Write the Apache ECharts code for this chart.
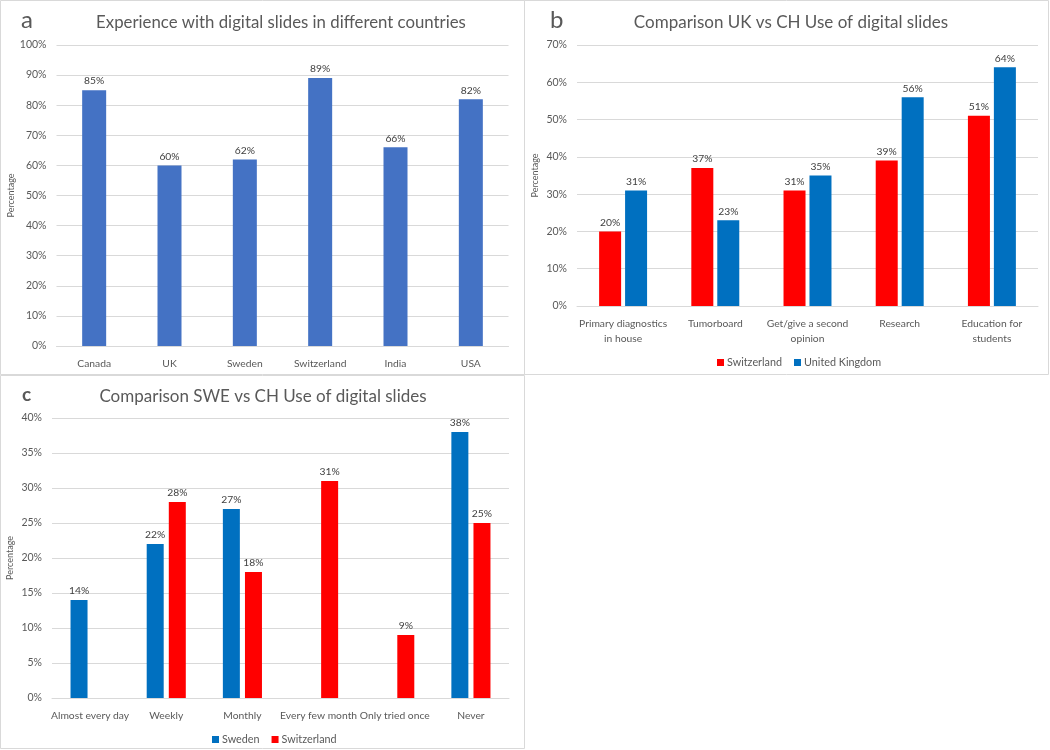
<!DOCTYPE html>
<html>
<head>
<meta charset="utf-8">
<script src="https://cdn.jsdelivr.net/npm/echarts@6/dist/echarts.min.js"></script>
<style>
html,body{margin:0;padding:0;background:#fff;}
#chart{width:1050px;height:750px;}
</style>
</head>
<body>
<div id="chart"></div>
<script>
// ---- Data ----
const countriesA = ['Canada', 'UK', 'Sweden', 'Switzerland', 'India', 'USA'];
const experienceA = [85, 60, 62, 89, 66, 82];

const usesB = ['Primary diagnostics\nin house', 'Tumorboard', 'Get/give a second\nopinion', 'Research', 'Education for\nstudents'];
const switzerlandB = [20, 37, 31, 39, 51];
const ukB = [31, 23, 35, 56, 64];

const freqC = ['Almost every day', 'Weekly', 'Monthly', 'Every few month', 'Only tried once', 'Never'];
const swedenC = [14, 22, 27, null, null, 38];
const switzerlandC = [null, 28, 18, 31, 9, 25];

const titles = [
  'Experience with digital slides in different countries',
  'Comparison UK vs CH Use of digital slides',
  'Comparison SWE vs CH Use of digital slides'
];

// ---- Styles ----
const FONT = 'Lato';
const TXT = '#595959';
const GRIDC = '#d9d9d9';
const BLUE_A = '#4472C4';
const RED = '#FF0000';
const BLUE = '#0070C0';

function yAxis(gi, max, interval, gap) {
  return {
    type: 'value', gridIndex: gi, min: 0, max: max, interval: interval,
    name: 'Percentage', nameLocation: 'middle', nameGap: gap, nameRotate: 90,
    nameTextStyle: {fontFamily: FONT, fontSize: 9, color: TXT},
    axisLine: {show: false}, axisTick: {show: false},
    axisLabel: {formatter: '{value}%', fontFamily: FONT, fontSize: 10.5, color: TXT, margin: 10},
    splitLine: {lineStyle: {color: GRIDC, width: 1}}
  };
}
function xAxis(gi, data) {
  return {
    type: 'category', gridIndex: gi, data: data,
    axisLine: {lineStyle: {color: GRIDC, width: 1}},
    axisTick: {show: false},
    axisLabel: {fontFamily: FONT, fontSize: 10.3, color: TXT, margin: 10, lineHeight: 15, interval: 0}
  };
}
const lbl = {show: true, position: 'top', distance: 4, formatter: p => p.value + '%',
  fontFamily: FONT, fontSize: 10.3, color: '#404040'};

const chart = echarts.init(document.getElementById('chart'), null, {renderer: 'canvas'});
chart.setOption({
  backgroundColor: '#fff',
  animation: false,
  graphic: [
    {type: 'rect', shape: {x: 0.5, y: 0.5, width: 524, height: 374}, style: {fill: 'none', stroke: GRIDC, lineWidth: 1}},
    {type: 'rect', shape: {x: 524.5, y: 0.5, width: 524, height: 374}, style: {fill: 'none', stroke: GRIDC, lineWidth: 1}},
    {type: 'rect', shape: {x: 0.5, y: 375.5, width: 524, height: 373}, style: {fill: 'none', stroke: GRIDC, lineWidth: 1}},
    {type: 'text', left: 21, top: 8, style: {text: 'a', font: '24px Lato', fill: TXT}},
    {type: 'text', left: 550, top: 8, style: {text: 'b', font: '24px Lato', fill: TXT}},
    {type: 'text', left: 22, top: 385, style: {text: 'c', font: 'bold 19px Lato', fill: TXT}}
  ],
  title: [
    {text: titles[0], left: 276, top: 9, textAlign: 'center', textStyle: {fontFamily: FONT, fontSize: 16.8, fontWeight: 'normal', color: TXT}},
    {text: titles[1], left: 786, top: 9, textAlign: 'center', textStyle: {fontFamily: FONT, fontSize: 17, fontWeight: 'normal', color: TXT}},
    {text: titles[2], left: 258, top: 383, textAlign: 'center', textStyle: {fontFamily: FONT, fontSize: 17, fontWeight: 'normal', color: TXT}}
  ],
  legend: [
    {data: ['Switzerland', 'United Kingdom'], left: 712, top: 352, icon: 'rect', itemWidth: 7, itemHeight: 7, itemGap: 12,
      textStyle: {fontFamily: FONT, fontSize: 10.8, color: TXT, padding: [0, 0, 0, -2]}},
    {data: ['Sweden', 'Switzerland'], left: 207, top: 729, icon: 'rect', itemWidth: 7, itemHeight: 7, itemGap: 12,
      textStyle: {fontFamily: FONT, fontSize: 10.8, color: TXT, padding: [0, 0, 0, -2]}}
  ],
  grid: [
    {left: 56.5, top: 45, width: 452, height: 301},
    {left: 577, top: 45, width: 461, height: 261},
    {left: 52, top: 418, width: 457, height: 280}
  ],
  xAxis: [xAxis(0, countriesA), xAxis(1, usesB), xAxis(2, freqC)],
  yAxis: [yAxis(0, 100, 10, 41), yAxis(1, 70, 10, 37), yAxis(2, 40, 5, 37)],
  series: [
    {name: 'Experience', type: 'bar', xAxisIndex: 0, yAxisIndex: 0, data: experienceA,
      barWidth: 24, itemStyle: {color: BLUE_A}, label: lbl},
    {name: 'Switzerland', type: 'bar', xAxisIndex: 1, yAxisIndex: 1, data: switzerlandB,
      barWidth: 22, barGap: '18%', itemStyle: {color: RED}, label: lbl},
    {name: 'United Kingdom', type: 'bar', xAxisIndex: 1, yAxisIndex: 1, data: ukB,
      barWidth: 22, barGap: '18%', itemStyle: {color: BLUE}, label: lbl},
    {name: 'Sweden', type: 'bar', xAxisIndex: 2, yAxisIndex: 2, data: swedenC,
      barWidth: 17, barGap: '30%', itemStyle: {color: BLUE}, label: lbl},
    {name: 'Switzerland', type: 'bar', xAxisIndex: 2, yAxisIndex: 2, data: switzerlandC,
      barWidth: 17, barGap: '30%', itemStyle: {color: RED}, label: lbl}
  ]
});
</script>
</body>
</html>
